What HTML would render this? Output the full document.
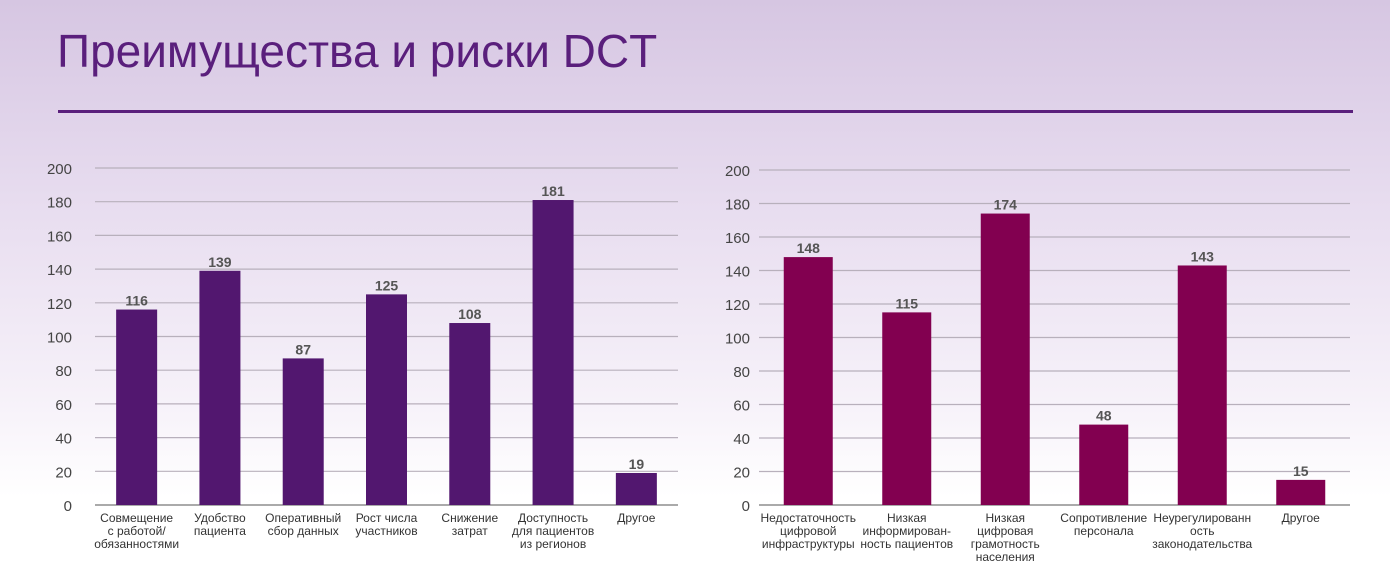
<!DOCTYPE html>
<html><head><meta charset="utf-8"><style>
body{margin:0;width:1390px;height:565px;overflow:hidden;font-family:"Liberation Sans",sans-serif;
background:linear-gradient(180deg,#d6c6e2 0%,#e7dcef 35%,#f6f1f9 70%,#ffffff 88%);position:relative}
.title{position:absolute;left:57px;top:24px;font-size:46px;color:#5a1f7c;}
.rule{position:absolute;left:58px;top:110px;width:1295px;height:3px;background:#5a1f7c}
svg{position:absolute;left:0;top:0}
</style></head><body>
<div class="title">Преимущества и риски DCT</div>
<div class="rule"></div>
<svg id="s" width="1390" height="565"></svg>
<script>
const leftCats=[["Совмещение","с работой/","обязанностями"],["Удобство","пациента"],["Оперативный","сбор данных"],["Рост числа","участников"],["Снижение","затрат"],["Доступность","для пациентов","из регионов"],["Другое"]];
const leftVals=[116,139,87,125,108,181,19];
const rightCats=[["Недостаточность","цифровой","инфраструктуры"],["Низкая","информирован-","ность пациентов"],["Низкая","цифровая","грамотность","населения"],["Сопротивление","персонала"],["Неурегулированн","ость","законодательства"],["Другое"]];
const rightVals=[148,115,174,48,143,15];
const ticks=[0,20,40,60,80,100,120,140,160,180,200];
const svg=document.getElementById('s');
const NS='http://www.w3.org/2000/svg';
function mk(t,a,txt){const e=document.createElementNS(NS,t);for(const k in a)e.setAttribute(k,a[k]);if(txt!=null)e.textContent=txt;svg.appendChild(e);return e;}
function chart(name,cats,vals,x0,x1,yb,yt,bw,color,tickX){
 const y=v=>yb-(v/200)*(yb-yt);
 const step=(x1-x0)/cats.length;
 ticks.forEach(t=>{
  const l=mk('line',{x1:x0,x2:x1,y1:y(t),y2:y(t),stroke:t==0?'#aaa':'#b8b0bc','stroke-width':t==0?2:1.2});
  
  
  const tx=mk('text',{x:tickX,y:y(t)+6,'font-size':15,fill:'#444','text-anchor':'end'},t);
  
  
 });
 vals.forEach((v,i)=>{
  const cx=x0+step*(i+0.5);
  const r=mk('rect',{x:cx-bw/2,y:y(v),width:bw,height:yb-y(v),fill:color});
  
  
  const lb=mk('text',{x:cx,y:y(v)-4,'font-size':14,'font-weight':'bold',fill:'#555','text-anchor':'middle'},v);
  
  
  cats[i].forEach((s,j)=>{
   const c=mk('text',{x:cx,y:yb+17+j*13,'font-size':12,fill:'#333','text-anchor':'middle'},s);
   
   
  });
 });
}
chart('benefits',leftCats,leftVals,95,678,505,168,41,'#52176f',72);
chart('risks',rightCats,rightVals,759,1350,505,170,49,'#820050',750);
</script>
</body></html>
